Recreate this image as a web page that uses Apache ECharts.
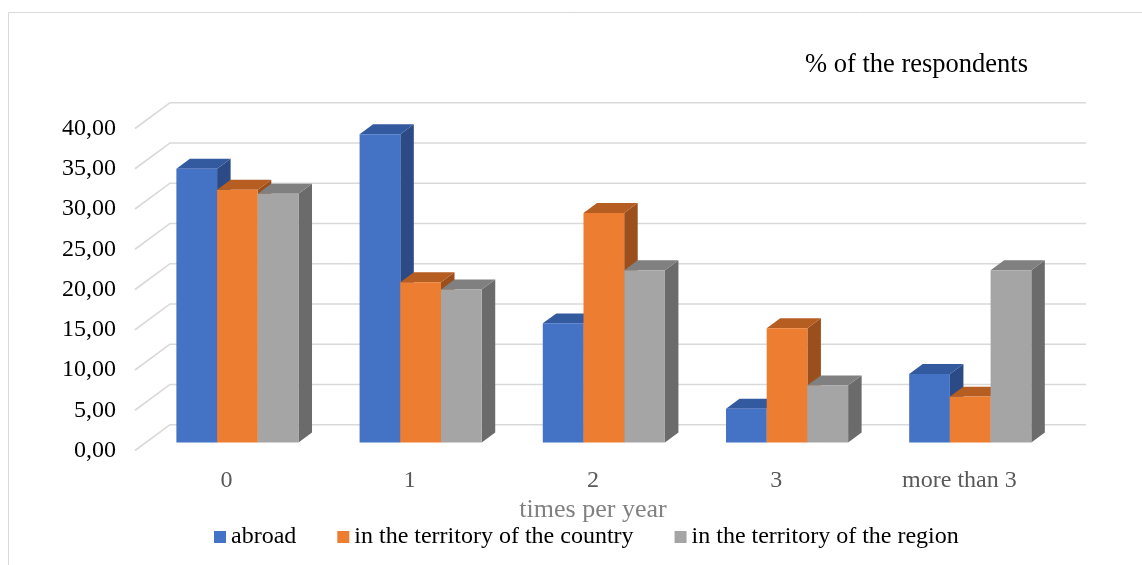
<!DOCTYPE html>
<html>
<head>
<meta charset="utf-8">
<script src="https://cdn.jsdelivr.net/npm/echarts@6/dist/echarts.min.js"></script>
<style>
  html, body { margin: 0; padding: 0; background: #fff; }
  #chart { width: 1142px; height: 565px; }
</style>
</head>
<body>
<div id="chart"></div>
<script>
// Trips per year, % of the respondents
const categories = ['0', '1', '2', '3', 'more than 3'];
const seriesNames = ['abroad', 'in the territory of the country', 'in the territory of the region'];
const abroad = [34.0, 38.3, 14.8, 4.2, 8.5];
const country = [31.4, 19.9, 28.5, 14.2, 5.7];
const region = [30.9, 19.0, 21.4, 7.1, 21.4];
const yTickValues = [0, 5, 10, 15, 20, 25, 30, 35, 40];
const yTickLabels = ['0,00', '5,00', '10,00', '15,00', '20,00', '25,00', '30,00', '35,00', '40,00'];

const FONT = '"Liberation Serif", "Times New Roman", serif';

// Oblique projection: offset from the front edge of the floor to the back wall
const DEPTH = [35, -25.8];
// Bars occupy this slice of the depth (0 = front edge, 1 = back wall)
const BAR_FRONT = 0.31;
const BAR_BACK = 0.696;
// Width of one bar as a share of the category band
const BAR_FRACTION = 0.2222;

const palettes = [
  { front: '#4472C4', top: '#335A9F', side: '#2C4A85' },
  { front: '#ED7D31', top: '#B65D22', side: '#9A4F1D' },
  { front: '#A5A5A5', top: '#808080', side: '#6B6B6B' }
];

function barRenderer(seriesIndex) {
  const pal = palettes[seriesIndex];
  return function (params, api) {
    const cat = api.value(0);
    const val = api.value(1);
    const base = api.coord([cat, 0]);
    const peak = api.coord([cat, val]);
    const band = api.size([1, 0])[0];
    const bw = band * BAR_FRACTION;
    const x0 = base[0] - 1.5 * bw + seriesIndex * bw + DEPTH[0] * BAR_FRONT;
    const x1 = x0 + bw;
    const yb = base[1] + DEPTH[1] * BAR_FRONT;
    const yt = peak[1] + DEPTH[1] * BAR_FRONT;
    const dx = DEPTH[0] * (BAR_BACK - BAR_FRONT);
    const dy = DEPTH[1] * (BAR_BACK - BAR_FRONT);
    return {
      type: 'group',
      children: [
        { type: 'polygon', shape: { points: [[x1, yb], [x1 + dx, yb + dy], [x1 + dx, yt + dy], [x1, yt]] },
          style: { fill: pal.side } },
        { type: 'polygon', shape: { points: [[x0, yt], [x1, yt], [x1 + dx, yt + dy], [x0 + dx, yt + dy]] },
          style: { fill: pal.top } },
        { type: 'rect', shape: { x: x0, y: yt, width: bw, height: yb - yt },
          style: { fill: pal.front } }
      ]
    };
  };
}

// Side-wall diagonals and back-wall gridlines, one per y tick
function wallRenderer(params, api) {
  const y = api.coord([0, api.value(1)])[1];
  const left = params.coordSys.x;
  const right = params.coordSys.x + params.coordSys.width;
  return {
    type: 'polyline',
    shape: { points: [[left, y], [left + DEPTH[0], y + DEPTH[1]], [right + DEPTH[0], y + DEPTH[1]]] },
    style: { stroke: '#D9D9D9', lineWidth: 1.6, fill: null }
  };
}

const seriesValues = [abroad, country, region];

const chart = echarts.init(document.getElementById('chart'), null, { renderer: 'canvas' });
chart.setOption({
  animation: false,
  backgroundColor: '#fff',
  title: {
    text: '% of the respondents',
    left: 800,
    top: 47,
    textStyle: { fontFamily: FONT, fontSize: 26.5, fontWeight: 'normal', color: '#000' }
  },
  graphic: [{
    type: 'rect',
    shape: { x: 8.5, y: 12.5, width: 1200, height: 600 },
    style: { fill: 'none', stroke: '#D9D9D9', lineWidth: 1 },
    silent: true
  }],
  legend: {
    data: seriesNames,
    icon: 'rect',
    itemWidth: 12,
    itemHeight: 12,
    itemGap: 41,
    left: 209,
    top: 520,
    textStyle: { fontFamily: FONT, fontSize: 24, color: '#000' }
  },
  grid: { left: 135, right: 91, top: 128.5, bottom: 114.5 },
  xAxis: {
    type: 'category',
    data: categories,
    axisLine: { show: false },
    axisTick: { show: false },
    axisLabel: { fontFamily: FONT, fontSize: 24, color: '#595959', margin: 18 },
    name: 'times per year',
    nameLocation: 'middle',
    nameGap: 44,
    nameTextStyle: { fontFamily: FONT, fontSize: 26, color: '#808080' }
  },
  yAxis: {
    type: 'value',
    min: 0,
    max: 40,
    interval: 5,
    axisLine: { show: false },
    axisTick: { show: false },
    splitLine: { show: false },
    axisLabel: {
      fontFamily: FONT, fontSize: 24, color: '#000', margin: 19,
      formatter: v => yTickLabels[yTickValues.indexOf(v)]
    }
  },
  series: [
    {
      type: 'custom',
      silent: true,
      z: 1,
      data: yTickValues.map(v => [0, v]),
      renderItem: wallRenderer
    }
  ].concat(seriesNames.map((name, s) => ({
    type: 'custom',
    name: name,
    z: 2,
    itemStyle: { color: palettes[s].front },
    data: seriesValues[s].map((v, i) => [i, v]),
    encode: { x: 0, y: 1 },
    renderItem: barRenderer(s)
  })))
});
</script>
</body>
</html>
